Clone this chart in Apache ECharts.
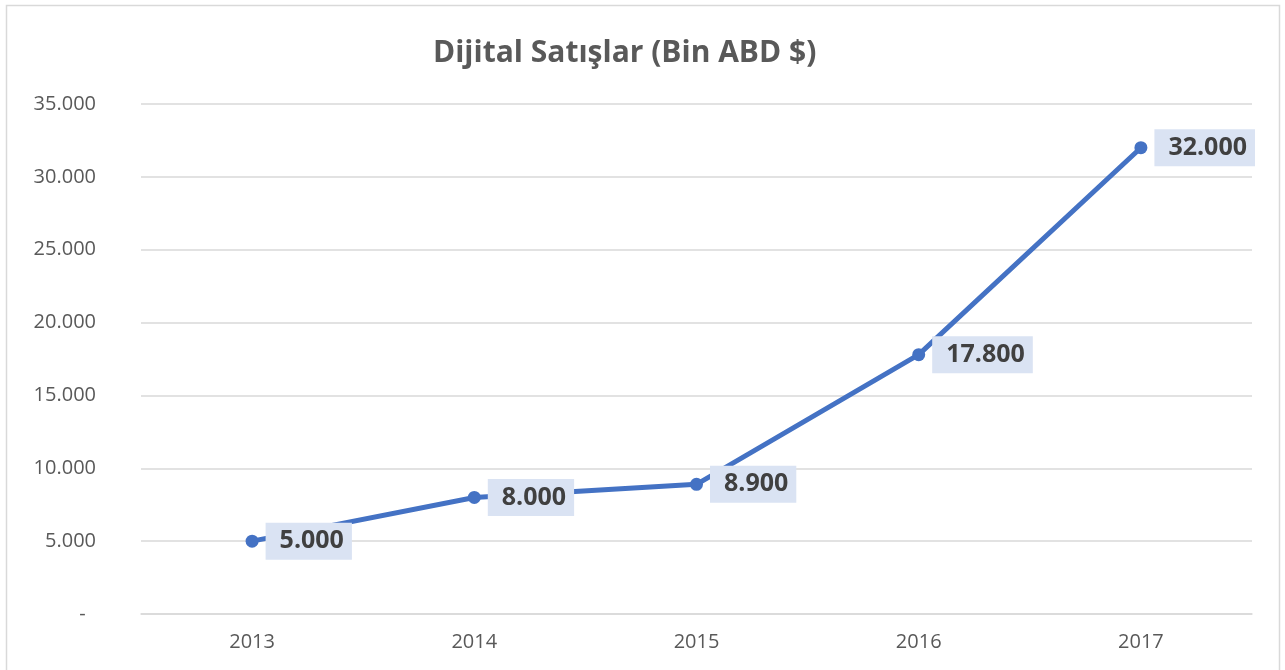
<!DOCTYPE html>
<html>
<head>
<meta charset="utf-8">
<script src="https://cdn.jsdelivr.net/npm/echarts@6/dist/echarts.min.js"></script>
<style>
html,body{margin:0;padding:0;background:#fff;}
#chart{width:1285px;height:670px;}
</style>
</head>
<body>
<div id="chart"></div>
<script>
const titleText = 'Dijital Satışlar (Bin ABD $)';
const years = ['2013', '2014', '2015', '2016', '2017'];
const sales = [5000, 8000, 8900, 17800, 32000];
const yTicks = [0, 5000, 10000, 15000, 20000, 25000, 30000, 35000];

function fmt(v) {
  return String(Math.round(v)).replace(/\B(?=(\d{3})+(?!\d))/g, '.');
}

const FONT = 'Open Sans';
const chart = echarts.init(document.getElementById('chart'), null, {renderer: 'canvas'});
chart.setOption({
  backgroundColor: '#ffffff',
  animation: false,
  title: {
    text: titleText,
    left: 433,
    top: 38,
    padding: 0,
    textStyle: {
      fontFamily: FONT,
      fontSize: 30,
      fontWeight: 'bold',
      color: '#595959'
    }
  },
  graphic: [{
    type: 'rect',
    shape: {x: 6.5, y: 5.5, width: 1273, height: 700},
    style: {fill: 'none', stroke: '#d9d9d9', lineWidth: 1.5},
    silent: true,
    z: -1
  }],
  grid: {left: 141, right: 33, top: 104, bottom: 56, containLabel: false},
  xAxis: {
    type: 'category',
    data: years,
    boundaryGap: true,
    axisLine: {show: true, lineStyle: {color: '#d9d9d9', width: 1.5}},
    axisTick: {show: false},
    axisLabel: {
      color: '#595959',
      fontFamily: FONT,
      fontSize: 20,
      margin: 18
    }
  },
  yAxis: {
    type: 'value',
    min: yTicks[0],
    max: yTicks[yTicks.length - 1],
    interval: yTicks[1] - yTicks[0],
    axisLine: {show: false},
    axisTick: {show: false},
    splitLine: {lineStyle: {color: '#d9d9d9', width: 1.5}},
    axisLabel: {
      color: '#595959',
      fontFamily: FONT,
      fontSize: 20,
      margin: 45,
      formatter: function (v) { return v === 0 ? '-  ' : fmt(v); }
    }
  },
  series: [{
    type: 'line',
    data: sales,
    symbol: 'circle',
    symbolSize: 13,
    itemStyle: {color: '#4472c4'},
    lineStyle: {color: '#4472c4', width: 5},
    label: {
      show: true,
      position: 'right',
      distance: 7,
      formatter: function (p) { return fmt(p.value); },
      fontFamily: FONT,
      fontSize: 25,
      fontWeight: 'bold',
      color: '#404040',
      backgroundColor: '#dae3f3',
      padding: [6, 8, 6, 14]
    }
  }]
});
</script>
</body>
</html>
